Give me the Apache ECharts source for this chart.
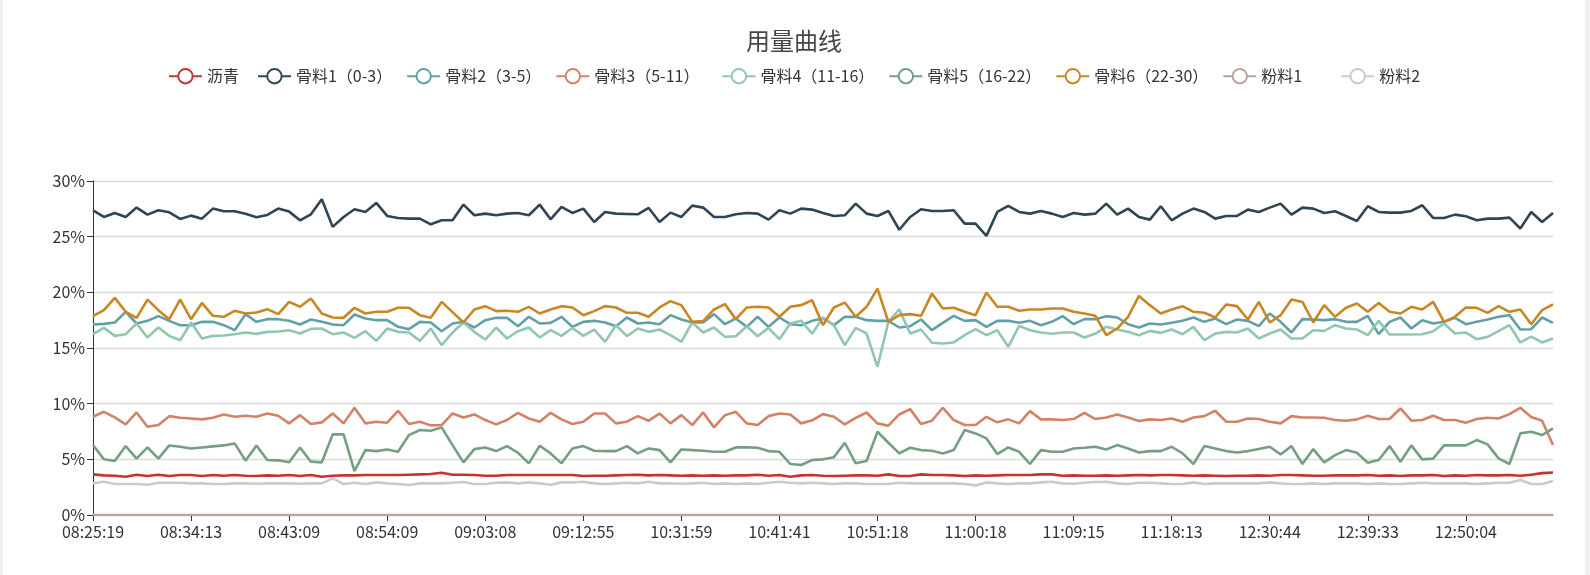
<!DOCTYPE html>
<html>
<head>
<meta charset="utf-8">
<script src="https://cdn.jsdelivr.net/npm/echarts@6/dist/echarts.min.js"></script>
<style>
  html, body { margin: 0; padding: 0; background: #efefef; }
  #chart { margin-left: 3px; width: 1582px; height: 575px; background: #fff; }
</style>
</head>
<body>
<div id="chart"></div>
<script>
;(function () {
  'use strict'

  // tick labels shown on the x axis (every 9th sample)
  var tickLabels = ['08:25:19', '08:34:13', '08:43:09', '08:54:09', '09:03:08', '09:12:55', '10:31:59',
    '10:41:41', '10:51:18', '11:00:18', '11:09:15', '11:18:13', '12:30:44', '12:39:33', '12:50:04']
  var LABEL_STEP = 9
  var POINT_COUNT = 135

  var seriesNames = ['沥青', '骨料1（0-3）', '骨料2（3-5）', '骨料3（5-11）', '骨料4（11-16）',
    '骨料5（16-22）', '骨料6（22-30）', '粉料1', '粉料2']

  var liqing = [
    3.65,3.56,3.53,3.44,3.62,3.50,3.62,3.50,3.59,3.59,3.50,3.59,3.53,3.59,3.53,3.50,3.56,3.53,3.59,3.50,3.59,3.44,3.53,
    3.56,3.56,3.59,3.59,3.59,3.59,3.62,3.65,3.68,3.80,3.62,3.62,3.59,3.53,3.53,3.59,3.59,3.59,3.59,3.59,3.59,3.59,
    3.50,3.53,3.53,3.56,3.59,3.62,3.56,3.59,3.56,3.53,3.56,3.53,3.56,3.53,3.56,3.56,3.62,3.53,3.59,3.44,3.56,3.59,
    3.53,3.50,3.53,3.56,3.56,3.53,3.65,3.50,3.50,3.65,3.59,3.59,3.56,3.50,3.56,3.53,3.56,3.59,3.59,3.59,3.65,3.65,
    3.53,3.56,3.53,3.53,3.56,3.53,3.56,3.59,3.56,3.59,3.59,3.56,3.53,3.56,3.53,3.50,3.53,3.53,3.56,3.53,3.59,3.59,
    3.56,3.53,3.53,3.56,3.56,3.56,3.59,3.53,3.56,3.50,3.56,3.56,3.59,3.50,3.56,3.53,3.59,3.56,3.56,3.59,3.52,3.62,
    3.76,3.82]

  var guliao1 = [
    27.37,26.77,27.13,26.77,27.61,26.98,27.37,27.19,26.59,26.89,26.62,27.52,27.28,27.28,27.06,26.74,26.95,27.52,27.25,26.47,27.01,28.36,25.88,
    26.77,27.46,27.22,28.03,26.86,26.68,26.62,26.62,26.11,26.47,26.47,27.88,26.92,27.07,26.92,27.07,27.13,26.92,27.88,26.56,27.67,27.13,
    27.52,26.32,27.22,27.07,27.04,27.01,27.58,26.32,27.16,26.77,27.79,27.61,26.77,26.77,27.01,27.13,27.07,26.53,27.37,27.07,27.52,27.43,
    27.13,26.86,26.92,27.97,27.07,26.86,27.31,25.62,26.77,27.46,27.31,27.31,27.37,26.17,26.17,25.07,27.22,27.76,27.22,27.07,27.31,27.07,
    26.77,27.13,26.98,27.07,27.97,26.98,27.52,26.77,26.53,27.73,26.47,27.07,27.52,27.22,26.62,26.86,26.86,27.43,27.22,27.61,27.97,26.98,
    27.61,27.52,27.13,27.28,26.86,26.41,27.73,27.22,27.16,27.16,27.31,27.82,26.68,26.68,26.98,26.83,26.47,26.62,26.62,26.71,25.73,27.22,
    26.32,27.13]

  var guliao2 = [
    17.11,17.17,17.29,18.25,17.20,17.44,17.86,17.44,17.05,17.05,17.35,17.35,17.05,16.60,18.04,17.35,17.59,17.59,17.44,17.11,17.56,17.35,17.11,
    17.05,18.01,17.65,17.50,17.50,16.90,16.69,17.35,17.29,16.51,17.20,17.35,16.84,17.50,17.71,17.71,16.96,17.80,17.20,17.26,17.80,16.90,
    17.35,17.44,17.29,16.96,17.74,17.20,17.29,17.14,17.95,17.56,17.29,17.29,18.04,17.14,17.65,16.90,17.80,16.90,17.74,17.14,17.05,17.44,
    17.65,17.05,17.80,17.80,17.50,17.44,17.44,16.84,16.96,17.56,16.60,17.26,17.89,17.44,17.50,16.90,17.44,17.44,17.26,17.44,17.05,17.35,
    17.86,17.14,17.59,17.59,17.86,17.74,17.14,16.84,17.20,17.11,17.26,17.44,17.74,17.35,17.65,17.14,17.56,17.44,16.96,18.10,17.35,16.39,
    17.59,17.56,17.50,17.59,17.35,17.35,17.89,16.24,17.35,17.74,16.75,17.50,17.20,17.35,17.71,17.14,17.35,17.56,17.80,17.95,16.66,16.69,
    17.74,17.26]

  var guliao3 = [
    8.82,9.27,8.76,8.14,9.21,7.93,8.08,8.88,8.73,8.67,8.59,8.73,9.03,8.82,8.91,8.82,9.12,8.91,8.23,8.97,8.17,8.32,9.12,
    8.23,9.63,8.23,8.38,8.29,9.36,8.17,8.38,8.05,8.08,9.12,8.76,9.03,8.53,8.14,8.53,9.18,8.67,8.38,9.18,8.59,8.17,
    8.38,9.12,9.12,8.23,8.38,8.88,8.47,9.12,8.23,8.97,8.08,9.21,7.87,8.97,9.27,8.23,8.08,8.88,9.12,9.03,8.23,8.50,
    9.06,8.82,8.14,8.73,9.21,8.23,8.02,9.03,9.51,8.17,8.47,9.63,8.53,8.08,8.08,8.82,8.32,8.59,8.23,9.33,8.59,8.59,
    8.53,8.62,9.18,8.62,8.76,9.03,8.76,8.44,8.59,8.53,8.67,8.38,8.76,8.88,9.36,8.38,8.38,8.67,8.62,8.38,8.23,8.88,
    8.76,8.76,8.73,8.53,8.47,8.59,8.91,8.62,8.62,9.57,8.47,8.53,8.91,8.53,8.53,8.29,8.62,8.73,8.67,9.06,9.63,8.80,
    8.47,6.28]

  var guliao4 = [
    16.24,16.81,16.09,16.24,17.20,15.94,16.84,16.09,15.70,17.29,15.85,16.09,16.12,16.24,16.39,16.27,16.45,16.48,16.60,16.30,16.72,16.75,16.24,
    16.39,15.91,16.51,15.64,16.75,16.45,16.39,15.64,16.75,15.26,16.39,17.29,16.45,15.76,16.84,15.85,16.51,16.84,15.94,16.60,16.09,16.80,
    16.09,16.66,15.55,17.05,16.06,16.75,16.45,16.66,16.15,15.55,17.29,16.39,16.84,16.00,16.06,16.96,16.06,16.81,15.79,17.20,17.44,16.28,
    17.74,17.05,15.26,16.81,16.30,13.31,17.35,18.46,16.30,16.66,15.47,15.41,15.50,16.15,16.69,16.15,16.60,15.11,16.99,16.60,16.39,16.28,
    16.39,16.39,15.94,16.30,16.90,16.66,16.45,16.15,16.54,16.36,16.66,16.24,16.90,15.70,16.30,16.45,16.39,16.75,15.85,16.30,16.66,15.86,
    15.85,16.60,16.54,17.05,16.75,16.66,16.15,17.44,16.21,16.21,16.21,16.24,16.51,17.20,16.30,16.39,15.79,16.00,16.51,17.05,15.50,16.02,
    15.50,15.85]

  var guliao5 = [
    6.28,5.00,4.85,6.19,5.06,6.07,5.06,6.25,6.13,5.98,6.07,6.16,6.25,6.43,4.88,6.25,4.94,4.91,4.73,6.07,4.79,4.73,7.24,
    7.24,3.95,5.83,5.74,5.89,5.68,7.18,7.63,7.57,7.87,6.28,4.73,5.92,6.07,5.74,6.19,5.59,4.64,6.22,5.53,4.64,5.98,
    6.19,5.77,5.74,5.74,6.19,5.53,5.98,5.83,4.73,5.89,5.83,5.77,5.68,5.68,6.07,6.07,6.04,5.74,5.68,4.58,4.49,4.94,
    5.00,5.18,6.49,4.64,4.85,7.48,6.49,5.53,6.04,5.83,5.77,5.53,5.83,7.63,7.33,6.88,5.47,6.07,5.68,4.58,5.83,5.68,
    5.68,5.98,6.04,6.13,5.89,6.28,5.98,5.62,5.74,5.74,6.13,5.53,4.58,6.19,5.98,5.74,5.62,5.74,5.92,6.13,5.44,6.19,
    4.58,5.92,4.73,5.38,5.83,5.59,4.70,4.94,6.19,4.79,6.25,5.00,5.06,6.25,6.25,6.25,6.73,6.34,5.09,4.58,7.33,7.48,
    7.18,7.78]

  var guliao6 = [
    17.86,18.40,19.50,18.25,17.71,19.35,18.40,17.59,19.35,17.59,19.05,17.89,17.80,18.34,18.10,18.19,18.49,18.04,19.14,18.70,19.44,18.10,17.74,
    17.71,18.61,18.10,18.25,18.25,18.61,18.61,17.95,17.71,19.14,18.22,17.29,18.46,18.76,18.31,18.34,18.25,18.70,18.10,18.46,18.76,18.64,
    17.95,18.31,18.76,18.64,18.16,18.16,17.80,18.64,19.20,18.85,17.35,17.41,18.46,18.94,17.59,18.64,18.70,18.64,17.80,18.70,18.85,19.29,
    17.05,18.64,19.08,17.80,18.70,20.34,17.35,17.95,18.04,17.89,19.89,18.55,18.61,18.25,17.95,19.98,18.70,18.70,18.34,18.46,18.46,18.55,
    18.55,18.25,18.10,17.89,16.15,16.75,17.80,19.68,18.85,18.10,18.46,18.76,18.25,18.16,17.74,18.91,18.76,17.56,19.14,17.29,17.95,19.35,
    19.14,17.29,18.85,17.80,18.61,18.99,18.25,19.05,18.25,18.10,18.70,18.46,19.14,17.35,17.80,18.64,18.61,18.16,18.76,18.25,18.46,17.14,
    18.40,18.91]

  var fenliao1 = [
    0,0,0,0,0,0,0,0,0,0,0,0,0,0,0,0,0,0,0,0,0,0,0,
    0,0,0,0,0,0,0,0,0,0,0,0,0,0,0,0,0,0,0,0,0,0,
    0,0,0,0,0,0,0,0,0,0,0,0,0,0,0,0,0,0,0,0,0,0,
    0,0,0,0,0,0,0,0,0,0,0,0,0,0,0,0,0,0,0,0,0,0,
    0,0,0,0,0,0,0,0,0,0,0,0,0,0,0,0,0,0,0,0,0,0,
    0,0,0,0,0,0,0,0,0,0,0,0,0,0,0,0,0,0,0,0,0,0,
    0,0]

  var fenliao2 = [
    2.84,2.99,2.78,2.78,2.78,2.72,2.90,2.90,2.90,2.84,2.84,2.78,2.78,2.84,2.84,2.81,2.84,2.84,2.84,2.81,2.84,2.84,3.29,
    2.78,2.90,2.78,2.93,2.84,2.78,2.69,2.84,2.84,2.84,2.90,2.96,2.78,2.78,2.90,2.93,2.84,2.93,2.84,2.72,2.93,2.93,
    2.99,2.84,2.78,2.84,2.90,2.84,2.99,2.84,2.84,2.81,2.84,2.90,2.78,2.84,2.78,2.84,2.78,2.90,2.99,2.90,2.84,2.90,
    2.84,2.78,2.84,2.84,2.78,2.78,2.78,2.90,2.84,2.84,2.84,2.84,2.84,2.78,2.66,2.93,2.84,2.78,2.84,2.84,2.93,2.99,
    2.84,2.81,2.90,2.96,2.99,2.84,2.78,2.90,2.90,2.84,2.78,2.78,2.93,2.78,2.84,2.84,2.84,2.84,2.84,2.93,2.84,2.78,
    2.78,2.84,2.78,2.84,2.84,2.84,2.78,2.84,2.78,2.78,2.84,2.90,2.84,2.84,2.84,2.84,2.78,2.84,2.90,2.90,3.14,2.78,
    2.78,3.05]

  var seriesValues = [liqing, guliao1, guliao2, guliao3, guliao4, guliao5, guliao6, fenliao1, fenliao2]

  var COLORS = ['#c23531', '#2f4554', '#61a0a8', '#d48265', '#91c7ae', '#749f83', '#ca8622', '#bda29a', '#c4ccd3']
  var FONT = '"Noto Sans CJK SC", "Microsoft YaHei", sans-serif'

  // a few legend labels take more room than their text in the original: pad with blank space
  var LEGEND_PAD = { '沥青': '\u2005', '骨料3（5-11）': '\u2002', '粉料1': '\u3000\u2002' }

  function toSec(t) {
    var p = t.split(':')
    return (+p[0]) * 3600 + (+p[1]) * 60 + (+p[2])
  }
  function toTime(s) {
    function pad(n) { return (n < 10 ? '0' : '') + n }
    s = Math.round(s)
    return pad(Math.floor(s / 3600)) + ':' + pad(Math.floor(s / 60) % 60) + ':' + pad(s % 60)
  }

  // only every 9th category is labelled; the hidden ones in between get filler times
  function buildCategories() {
    var out = []
    for (var i = 0; i < POINT_COUNT; i++) {
      var k = Math.floor(i / LABEL_STEP), r = i % LABEL_STEP
      if (r === 0) { out.push(tickLabels[k]); continue }
      var a = toSec(tickLabels[k])
      var b = k + 1 < tickLabels.length ? toSec(tickLabels[k + 1]) : a + LABEL_STEP * 60
      out.push(toTime(a + (b - a) * r / LABEL_STEP))
    }
    return out
  }

  var chart = echarts.init(document.getElementById('chart'))

  chart.setOption({
    animation: false,
    color: COLORS,
    textStyle: { fontFamily: FONT },
    title: {
      text: '用量曲线',
      left: 'center',
      top: 24,
      textStyle: { fontSize: 24, fontWeight: 'normal', color: '#464646', fontFamily: FONT }
    },
    legend: {
      top: 63,
      left: 'center',
      itemWidth: 33,
      itemHeight: 18,
      itemGap: 14,
      data: seriesNames,
      formatter: function (name) { return name + (LEGEND_PAD[name] || '') },
      textStyle: { fontSize: 16, color: '#333', fontFamily: FONT }
    },
    grid: { left: 90, right: 32, top: 181, bottom: 60 },
    xAxis: {
      type: 'category',
      boundaryGap: false,
      data: buildCategories(),
      axisLine: { lineStyle: { color: '#333' } },
      axisTick: { interval: LABEL_STEP - 1, length: 6 },
      axisLabel: { interval: LABEL_STEP - 1, fontSize: 16, color: '#333', margin: 9, fontFamily: FONT }
    },
    yAxis: {
      type: 'value',
      min: 0,
      max: 30,
      interval: 5,
      axisLine: { show: true, lineStyle: { color: '#333' } },
      axisTick: { show: true, length: 6 },
      axisLabel: { formatter: '{value}%', fontSize: 16, color: '#333', margin: 8, fontFamily: FONT },
      splitLine: { lineStyle: { color: '#dcdcdc', width: 1.3 } }
    },
    series: seriesNames.map(function (name, i) {
      return {
        name: name,
        type: 'line',
        data: seriesValues[i],
        symbol: 'emptyCircle',
        symbolSize: 5,
        showSymbol: false,
        lineStyle: { width: 2.6 }
      }
    })
  })
})()
</script>
</body>
</html>
